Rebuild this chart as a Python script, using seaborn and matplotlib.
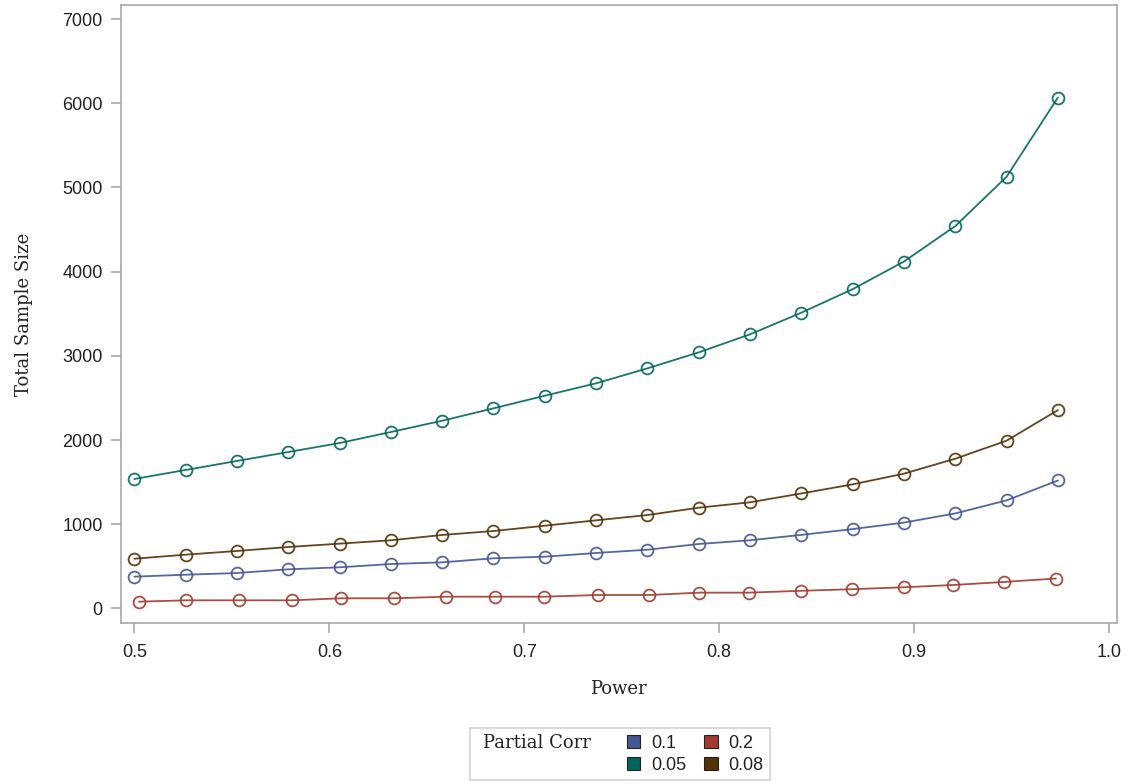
import numpy as np
import pandas as pd
import matplotlib
matplotlib.use("Agg")
import matplotlib.pyplot as plt
from matplotlib.patches import Patch
import seaborn as sns

# power levels (nominal) and values
power = [0.5, 0.5263, 0.5526, 0.5789, 0.6053, 0.6316, 0.6579, 0.6842, 0.7105, 0.7368,
         0.7632, 0.7895, 0.8158, 0.8421, 0.8684, 0.8947, 0.9211, 0.9474, 0.9737]
# the 0.2 curve has slightly different achieved powers
power_02 = [0.5024, 0.5264, 0.5538, 0.5807, 0.6060, 0.6332, 0.6598, 0.6850, 0.7103, 0.7376,
            0.7641, 0.7896, 0.8152, 0.8419, 0.8682, 0.8947, 0.9200, 0.9460, 0.9727]

n_01 = [378, 401, 421, 465, 489, 528, 548, 596, 615, 659,
        698, 766, 810, 874, 943, 1020, 1129, 1284, 1520]
n_02 = [81, 97, 97, 97, 121, 121, 140, 140, 140, 160,
        160, 188, 188, 210, 229, 252, 279, 315, 356]
n_005 = [1538, 1645, 1752, 1858, 1965, 2096, 2230, 2377, 2527, 2674,
         2852, 3042, 3256, 3513, 3792, 4120, 4542, 5128, 6068]
n_008 = [591, 639, 683, 730, 770, 810, 873, 920, 983, 1047,
         1110, 1197, 1261, 1366, 1474, 1601, 1779, 1993, 2356]

groups = ["0.1", "0.2", "0.05", "0.08"]
colors = ["#445694", "#A23A2E", "#01665E", "#543005"]

df = pd.concat([
    pd.DataFrame({"Power": power, "N": n_01, "Partial Corr": "0.1"}),
    pd.DataFrame({"Power": power_02, "N": n_02, "Partial Corr": "0.2"}),
    pd.DataFrame({"Power": power, "N": n_005, "Partial Corr": "0.05"}),
    pd.DataFrame({"Power": power, "N": n_008, "Partial Corr": "0.08"}),
], ignore_index=True)

sns.set_style("white")
plt.rcParams["font.family"] = "Liberation Sans"

fig = plt.figure(figsize=(11.27, 7.84), dpi=100)
ax = fig.add_axes([0.1071, 0.2054, 0.884, 0.7882])

palette = dict(zip(groups, colors))
sns.lineplot(data=df, x="Power", y="N", hue="Partial Corr", hue_order=groups,
             palette=palette, marker="o", linewidth=1.3, markersize=8.5,
             legend=False, ax=ax, sort=False)

for line in ax.lines:
    c = line.get_color()
    line.set_markerfacecolor("none")
    line.set_markeredgecolor(c)
    line.set_markeredgewidth(1.3)
    line.set_alpha(0.9)

ax.set_xlim(0.493, 1.004)
ax.set_ylim(-172, 7167)
ax.set_xticks([0.5, 0.6, 0.7, 0.8, 0.9, 1.0])
ax.set_xticklabels(["0.5", "0.6", "0.7", "0.8", "0.9", "1.0"])
ax.set_yticks(range(0, 7001, 1000))

for s in ax.spines.values():
    s.set_color("#a8a8a8")
    s.set_linewidth(1.2)
ax.tick_params(axis="both", direction="out", length=7, width=1.2, color="#a8a8a8",
               labelsize=13, labelcolor="#222222", bottom=True, left=True)
ax.tick_params(axis="y", pad=6)
ax.tick_params(axis="x", pad=8)

ax.set_xlabel("Power", family="DejaVu Serif", fontsize=13, color="#222222", labelpad=14)
ax.set_ylabel("Total Sample Size", family="DejaVu Serif", fontsize=13,
              color="#222222", labelpad=21)

# legend: title on the left, two columns of swatches
blank = Patch(facecolor="none", edgecolor="none")
handles = [blank, blank] + [Patch(facecolor=c, edgecolor="#222222", linewidth=0.8) for c in colors]
labels = ["Partial Corr", ""] + groups
order = [0, 1, 2, 4, 3, 5]
handles = [handles[i] for i in order]
labels = [labels[i] for i in order]
leg = fig.legend(handles, labels, ncol=3, loc="lower center", bbox_to_anchor=(0.5502, 0.003),
                 frameon=True, fancybox=False, fontsize=13, handlelength=0.75,
                 handleheight=0.75, handletextpad=0.6, columnspacing=1.0,
                 labelspacing=0.25, borderpad=0.35, borderaxespad=0.1)
leg.get_frame().set_edgecolor("#c8c8c8")
leg.get_frame().set_linewidth(1.2)
texts = leg.get_texts()
for t in texts:
    t.set_color("#222222")
texts[0].set_family("DejaVu Serif")
texts[0].set_x(-18)

fig.savefig("out.png", dpi=100)
